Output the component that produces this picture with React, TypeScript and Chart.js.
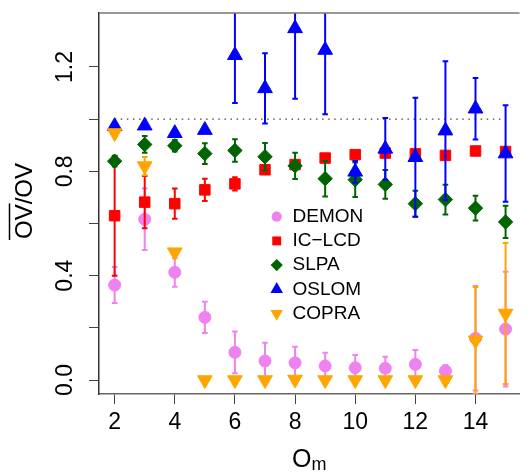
import React, { useEffect, useRef } from 'react';
import { Chart, registerables } from 'chart.js';

Chart.register(...registerables);

const FONT = '"Liberation Sans", Arial, Helvetica, sans-serif';

// ---- data ----
const omValues = [2, 3, 4, 5, 6, 7, 8, 9, 10, 11, 12, 13, 14, 15];
const xTickValues = [2, 4, 6, 8, 10, 12, 14];
const yTickValues = [0, 0.2, 0.4, 0.6, 0.8, 1.0, 1.2];
const yLabelledTicks = [0, 0.4, 0.8, 1.2];

const demonMean = [0.364, 0.616, 0.413, 0.24, 0.106, 0.073, 0.066, 0.054, 0.047, 0.045, 0.06, 0.035, 0.16, 0.195];
const demonErr = [0.069, 0.118, 0.055, 0.06, 0.08, 0.07, 0.062, 0.051, 0.049, 0.044, 0.055, 0.022, 0.2, 0.22];
const iclcdMean = [0.63, 0.682, 0.676, 0.729, 0.752, 0.806, 0.826, 0.851, 0.864, 0.87, 0.867, 0.861, 0.878, 0.876];
const iclcdErr = [0.23, 0.1, 0.058, 0.043, 0.025, 0.015, 0.012, 0.01, 0.01, 0.01, 0.01, 0.01, 0.01, 0.01];
const slpaMean = [0.839, 0.903, 0.898, 0.868, 0.88, 0.856, 0.821, 0.772, 0.768, 0.75, 0.676, 0.692, 0.659, 0.606];
const slpaErr = [0.02, 0.032, 0.022, 0.04, 0.043, 0.053, 0.05, 0.068, 0.066, 0.055, 0.05, 0.057, 0.047, 0.062];
const oslomMean = [0.973, 0.975, 0.946, 0.958, 1.245, 1.118, 1.348, 1.265, 0.798, 0.886, 0.854, 0.956, 1.04, 0.868];
const oslomErr = [0.01, 0.01, 0.01, 0.01, 0.183, 0.135, 0.27, 0.246, 0.042, 0.118, 0.228, 0.266, 0.118, 0.185];
const copraMean = [0.947, 0.82, 0.49, 0.0, 0.0, 0.0, 0.002, 0.0, 0.0, 0.0, 0.0, 0.0, 0.152, 0.255];
const copraErr = [0.01, 0.035, 0.01, 0.0, 0.0, 0.0, 0.0, 0.0, 0.0, 0.0, 0.0, 0.0, 0.205, 0.27];

const referenceX = [2, 15];
const referenceY = [1, 1];

const seriesNames = ['DEMON', 'IC\u2212LCD', 'SLPA', 'OSLOM', 'COPRA'];
const seriesMeans = [demonMean, iclcdMean, slpaMean, oslomMean, copraMean];
const seriesErrors = [demonErr, iclcdErr, slpaErr, oslomErr, copraErr];

// ---- styles ----
const seriesStyles = [
  { color: '#EE82EE', pointStyle: 'circle', radius: 6, rotation: 0 },
  { color: '#FF0000', pointStyle: 'rect', radius: 7.4, rotation: 0 },
  { color: '#006400', pointStyle: 'rectRot', radius: 7.2, rotation: 0 },
  { color: '#0000FF', pointStyle: 'triangle', radius: 8.5, rotation: 0 },
  { color: '#FFA500', pointStyle: 'triangle', radius: 8.5, rotation: 180 },
];

function drawMarker(ctx: CanvasRenderingContext2D, style: string, x: number, y: number, r: number, rotation: number) {
  ctx.beginPath();
  if (style === 'circle') {
    ctx.arc(x, y, r, 0, Math.PI * 2);
  } else if (style === 'rect') {
    const s = Math.SQRT1_2 * r;
    ctx.rect(x - s, y - s, 2 * s, 2 * s);
  } else if (style === 'rectRot') {
    ctx.moveTo(x - r, y);
    ctx.lineTo(x, y - r);
    ctx.lineTo(x + r, y);
    ctx.lineTo(x, y + r);
    ctx.closePath();
  } else {
    let rad = (rotation * Math.PI) / 180;
    ctx.moveTo(x + Math.sin(rad) * r, y - Math.cos(rad) * r);
    rad += (2 * Math.PI) / 3;
    ctx.lineTo(x + Math.sin(rad) * r, y - Math.cos(rad) * r);
    rad += (2 * Math.PI) / 3;
    ctx.lineTo(x + Math.sin(rad) * r, y - Math.cos(rad) * r);
    ctx.closePath();
  }
  ctx.fill();
}

const errorBarPlugin = {
  id: 'errorBars',
  beforeDatasetDraw(chart: any, args: any) {
    const ds = chart.data.datasets[args.index];
    if (!ds.errors) return;
    const { ctx, chartArea, scales } = chart;
    ctx.save();
    ctx.beginPath();
    ctx.rect(chartArea.left, chartArea.top, chartArea.right - chartArea.left, chartArea.bottom - chartArea.top);
    ctx.clip();
    ctx.strokeStyle = ds.borderColor;
    ctx.lineWidth = 2;
    ds.data.forEach((p: any, i: number) => {
      const e = ds.errors[i];
      const x = scales.x.getPixelForValue(p.x);
      const yt = scales.y.getPixelForValue(p.y + e);
      const yb = scales.y.getPixelForValue(p.y - e);
      if (yb - yt < 2) return;
      ctx.beginPath();
      ctx.moveTo(x, yt);
      ctx.lineTo(x, yb);
      ctx.moveTo(x - 2.8, yt);
      ctx.lineTo(x + 2.8, yt);
      ctx.moveTo(x - 2.8, yb);
      ctx.lineTo(x + 2.8, yb);
      ctx.stroke();
    });
    ctx.restore();
  },
};

const decorPlugin = {
  id: 'decor',
  afterDraw(chart: any) {
    const { ctx, chartArea } = chart;
    ctx.save();
    // top frame line
    ctx.strokeStyle = '#777';
    ctx.lineWidth = 1.5;
    ctx.beginPath();
    ctx.moveTo(chartArea.left, chartArea.top);
    ctx.lineTo(chartArea.right, chartArea.top);
    ctx.stroke();

    // y title with overline on the first "OV"
    ctx.fillStyle = '#000';
    ctx.strokeStyle = '#000';
    ctx.font = `24px ${FONT}`;
    const full = 'OV/OV';
    const w = ctx.measureText(full).width;
    const wOV = ctx.measureText('OV').width;
    ctx.save();
    ctx.translate(31.5, 201);
    ctx.rotate(-Math.PI / 2);
    ctx.textAlign = 'left';
    ctx.textBaseline = 'alphabetic';
    ctx.fillText(full, -w / 2, 0);
    ctx.lineWidth = 1.5;
    ctx.beginPath();
    ctx.moveTo(-w / 2 - 1, -22);
    ctx.lineTo(-w / 2 + wOV + 1, -22);
    ctx.stroke();
    ctx.restore();

    // x title O_m
    ctx.textBaseline = 'alphabetic';
    ctx.textAlign = 'left';
    ctx.font = `25px ${FONT}`;
    const wO = ctx.measureText('O').width;
    ctx.font = `18px ${FONT}`;
    const wm = ctx.measureText('m').width;
    const cx = (chartArea.left + chartArea.right) / 2;
    const x0 = cx - (wO + wm) / 2;
    ctx.font = `25px ${FONT}`;
    ctx.fillText('O', x0, 467);
    ctx.font = `18px ${FONT}`;
    ctx.fillText('m', x0 + wO, 470);

    // legend
    ctx.font = `19px ${FONT}`;
    ctx.textBaseline = 'middle';
    seriesNames.forEach((name, i) => {
      const st = seriesStyles[i];
      const yy = 216.7 + i * 24.2;
      ctx.fillStyle = st.color;
      drawMarker(ctx, st.pointStyle, 276.7, yy, st.radius * 0.85, st.rotation);
      ctx.fillStyle = '#000';
      ctx.fillText(name, 292.5, yy);
    });
    ctx.restore();
  },
};

export default function App() {
  const canvasRef = useRef<HTMLCanvasElement | null>(null);

  useEffect(() => {
    const canvas = canvasRef.current;
    if (!canvas) return;

    const datasets: any[] = seriesNames.map((name, i) => {
      const st = seriesStyles[i];
      return {
        type: 'scatter',
        label: name,
        data: omValues.map((x, j) => ({ x, y: seriesMeans[i][j] })),
        errors: seriesErrors[i],
        backgroundColor: st.color,
        borderColor: st.color,
        borderWidth: 1,
        pointStyle: st.pointStyle,
        pointRadius: st.radius,
        pointRotation: st.rotation,
        showLine: false,
        order: 5 - i,
        clip: false,
      };
    });
    datasets.push({
      type: 'line',
      label: 'reference',
      data: referenceX.map((x, j) => ({ x, y: referenceY[j] })),
      borderColor: '#444',
      borderWidth: 1.4,
      borderDash: [1.5, 4.6],
      pointRadius: 0,
      fill: false,
      order: 10,
    });

    const chart = new Chart(canvas, {
      type: 'scatter',
      data: { datasets },
      options: {
        animation: false,
        responsive: false,
        layout: { padding: { top: 13, left: 0, right: 0, bottom: 0 } },
        plugins: { legend: { display: false }, tooltip: { enabled: false } },
        scales: {
          x: {
            type: 'linear',
            min: 1.48,
            max: 15.463,
            afterBuildTicks: (s: any) => {
              s.ticks = xTickValues.map((v) => ({ value: v }));
            },
            afterFit: (s: any) => {
              s.height = 80;
              s.paddingLeft = 0;
              s.paddingRight = 0;
            },
            grid: { drawOnChartArea: false, drawTicks: true, tickLength: 10, color: '#444', lineWidth: 1 },
            border: { display: true, color: '#666', width: 1.5 },
            ticks: {
              font: { family: FONT, size: 23 },
              color: '#000',
              padding: 5,
              autoSkip: false,
              maxRotation: 0,
              minRotation: 0,
              callback: (v: any) => String(v),
            },
          },
          y: {
            type: 'linear',
            min: -0.0536,
            max: 1.407,
            afterBuildTicks: (s: any) => {
              s.ticks = yTickValues.map((v) => ({ value: v }));
            },
            afterFit: (s: any) => {
              s.width = 99;
              s.paddingTop = 0;
              s.paddingBottom = 0;
            },
            grid: { drawOnChartArea: false, drawTicks: true, tickLength: 10, color: '#444', lineWidth: 1 },
            border: { display: true, color: '#333', width: 1.5 },
            ticks: {
              font: { family: FONT, size: 23 },
              color: '#000',
              padding: 7,
              autoSkip: false,
              minRotation: 90,
              maxRotation: 90,
              crossAlign: 'center',
              callback: (v: any) =>
                yLabelledTicks.some((t) => Math.abs(t - Number(v)) < 1e-9) ? Number(v).toFixed(1) : '',
            },
          },
        },
      } as any,
      plugins: [errorBarPlugin, decorPlugin],
    });

    return () => chart.destroy();
  }, []);

  return (
    <div style={{ position: 'absolute', left: 0, top: 0, width: 529, height: 474, background: '#fff' }}>
      <canvas ref={canvasRef} width={529} height={474} style={{ display: 'block' }} />
    </div>
  );
}
